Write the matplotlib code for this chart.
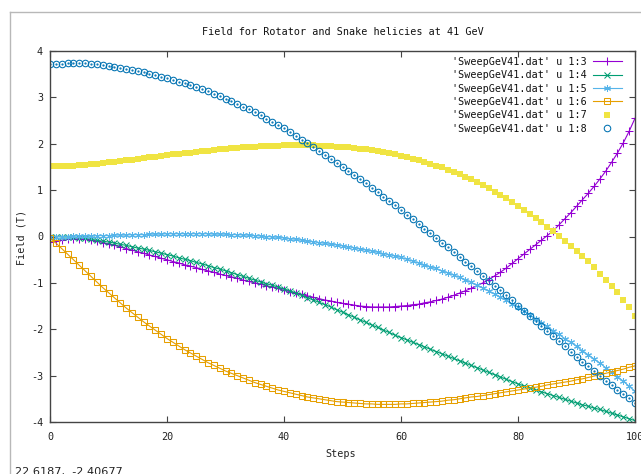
import matplotlib
matplotlib.use("Agg")
import matplotlib.pyplot as plt
from matplotlib.lines import Line2D

steps = list(range(0, 101))

col3 = [-0.12, -0.10, -0.08, -0.06, -0.05, -0.05, -0.06, -0.08, -0.10, -0.13,
        -0.16, -0.19, -0.22, -0.26, -0.29, -0.33, -0.36, -0.40, -0.43, -0.47,
        -0.50, -0.54, -0.57, -0.61, -0.64, -0.67, -0.71, -0.74, -0.77, -0.81,
        -0.84, -0.87, -0.90, -0.94, -0.97, -1.00, -1.03, -1.06, -1.09, -1.12,
        -1.16, -1.19, -1.22, -1.25, -1.28, -1.31, -1.34, -1.37, -1.39, -1.42,
        -1.44, -1.46, -1.48, -1.50, -1.51, -1.52, -1.52, -1.52, -1.52, -1.51,
        -1.50, -1.49, -1.47, -1.46, -1.43, -1.41, -1.38, -1.35, -1.31, -1.27,
        -1.22, -1.17, -1.12, -1.06, -1.00, -0.93, -0.85, -0.77, -0.68, -0.58,
        -0.48, -0.38, -0.28, -0.18, -0.08, 0.02, 0.12, 0.25, 0.38, 0.51,
        0.65, 0.79, 0.93, 1.08, 1.24, 1.41, 1.60, 1.80, 2.02, 2.27,
        2.55]

col4 = [0.00, 0.00, -0.01, -0.01, -0.02, -0.03, -0.04, -0.06, -0.08, -0.10,
        -0.12, -0.14, -0.17, -0.19, -0.22, -0.25, -0.27, -0.30, -0.33, -0.36,
        -0.39, -0.42, -0.46, -0.49, -0.52, -0.56, -0.59, -0.63, -0.67, -0.70,
        -0.74, -0.78, -0.82, -0.86, -0.90, -0.94, -0.98, -1.02, -1.05, -1.09,
        -1.13, -1.17, -1.22, -1.27, -1.32, -1.37, -1.42, -1.47, -1.52, -1.58,
        -1.63, -1.69, -1.74, -1.80, -1.85, -1.91, -1.96, -2.02, -2.07, -2.13,
        -2.18, -2.23, -2.28, -2.33, -2.38, -2.43, -2.48, -2.53, -2.58, -2.63,
        -2.68, -2.73, -2.78, -2.83, -2.88, -2.93, -2.98, -3.03, -3.08, -3.13,
        -3.18, -3.22, -3.26, -3.31, -3.35, -3.39, -3.43, -3.47, -3.51, -3.55,
        -3.59, -3.63, -3.66, -3.70, -3.73, -3.77, -3.81, -3.85, -3.89, -3.93,
        -3.97]

col5 = [0.00, 0.00, 0.00, 0.00, 0.01, 0.01, 0.01, 0.01, 0.02, 0.02,
        0.02, 0.03, 0.03, 0.03, 0.04, 0.04, 0.04, 0.05, 0.05, 0.05,
        0.06, 0.06, 0.06, 0.06, 0.06, 0.06, 0.06, 0.06, 0.05, 0.05,
        0.05, 0.04, 0.04, 0.03, 0.03, 0.02, 0.01, 0.00, -0.01, -0.02,
        -0.03, -0.05, -0.06, -0.08, -0.10, -0.11, -0.13, -0.15, -0.17, -0.18,
        -0.20, -0.22, -0.24, -0.27, -0.29, -0.31, -0.34, -0.37, -0.39, -0.42,
        -0.45, -0.49, -0.53, -0.57, -0.61, -0.65, -0.69, -0.74, -0.78, -0.83,
        -0.88, -0.93, -0.99, -1.05, -1.11, -1.17, -1.24, -1.31, -1.38, -1.45,
        -1.52, -1.60, -1.69, -1.77, -1.86, -1.94, -2.03, -2.11, -2.20, -2.28,
        -2.37, -2.46, -2.55, -2.64, -2.73, -2.83, -2.92, -3.02, -3.12, -3.23,
        -3.34]

col6 = [-0.03, -0.14, -0.26, -0.38, -0.50, -0.62, -0.74, -0.86, -0.98, -1.10,
        -1.21, -1.32, -1.43, -1.54, -1.64, -1.74, -1.84, -1.93, -2.02, -2.11,
        -2.20, -2.28, -2.36, -2.44, -2.51, -2.58, -2.65, -2.72, -2.78, -2.84,
        -2.90, -2.95, -3.00, -3.05, -3.10, -3.15, -3.19, -3.23, -3.27, -3.31,
        -3.34, -3.37, -3.40, -3.43, -3.46, -3.48, -3.50, -3.52, -3.54, -3.56,
        -3.57, -3.58, -3.59, -3.60, -3.61, -3.61, -3.62, -3.62, -3.62, -3.62,
        -3.61, -3.61, -3.60, -3.59, -3.58, -3.57, -3.56, -3.55, -3.53, -3.52,
        -3.50, -3.48, -3.46, -3.45, -3.43, -3.41, -3.39, -3.37, -3.35, -3.33,
        -3.31, -3.29, -3.27, -3.25, -3.23, -3.20, -3.18, -3.16, -3.14, -3.12,
        -3.09, -3.07, -3.04, -3.01, -2.98, -2.95, -2.92, -2.89, -2.86, -2.82,
        -2.79]

col7 = [1.51, 1.52, 1.52, 1.53, 1.53, 1.54, 1.55, 1.56, 1.57, 1.58,
        1.60, 1.61, 1.63, 1.64, 1.66, 1.68, 1.69, 1.71, 1.72, 1.74,
        1.75, 1.77, 1.78, 1.80, 1.81, 1.83, 1.84, 1.85, 1.87, 1.88,
        1.89, 1.90, 1.91, 1.92, 1.93, 1.94, 1.95, 1.95, 1.96, 1.96,
        1.97, 1.97, 1.97, 1.97, 1.97, 1.97, 1.96, 1.96, 1.95, 1.94,
        1.93, 1.92, 1.91, 1.89, 1.88, 1.86, 1.84, 1.82, 1.80, 1.77,
        1.74, 1.71, 1.68, 1.65, 1.61, 1.57, 1.53, 1.49, 1.44, 1.39,
        1.34, 1.28, 1.23, 1.17, 1.10, 1.04, 0.97, 0.89, 0.82, 0.74,
        0.66, 0.57, 0.49, 0.40, 0.31, 0.21, 0.11, 0.01, -0.09, -0.20,
        -0.31, -0.42, -0.53, -0.65, -0.80, -0.93, -1.06, -1.20, -1.36, -1.53,
        -1.71]

col8 = [3.71, 3.72, 3.73, 3.74, 3.75, 3.75, 3.74, 3.73, 3.72, 3.70,
        3.68, 3.66, 3.64, 3.62, 3.59, 3.57, 3.54, 3.51, 3.48, 3.45,
        3.41, 3.38, 3.34, 3.30, 3.26, 3.22, 3.17, 3.13, 3.08, 3.03,
        2.97, 2.92, 2.86, 2.80, 2.74, 2.68, 2.61, 2.54, 2.47, 2.40,
        2.33, 2.25, 2.17, 2.09, 2.01, 1.93, 1.85, 1.76, 1.68, 1.59,
        1.50, 1.42, 1.33, 1.24, 1.15, 1.05, 0.96, 0.86, 0.77, 0.67,
        0.57, 0.47, 0.37, 0.27, 0.17, 0.07, -0.03, -0.13, -0.23, -0.34,
        -0.44, -0.54, -0.64, -0.75, -0.85, -0.95, -1.06, -1.16, -1.27, -1.38,
        -1.50, -1.61, -1.71, -1.82, -1.93, -2.04, -2.15, -2.26, -2.37, -2.48,
        -2.59, -2.70, -2.80, -2.91, -3.01, -3.11, -3.21, -3.31, -3.40, -3.49,
        -3.58]

labels = ["'SweepGeV41.dat' u 1:3", "'SweepGeV41.dat' u 1:4",
          "'SweepGeV41.dat' u 1:5", "'SweepGeV41.dat' u 1:6",
          "'SweepGeV41.dat' u 1:7", "'SweepGeV41.dat' u 1:8"]
title = "Field for Rotator and Snake helicies at 41 GeV"
xlabel = "Steps"
ylabel = "Field (T)"
xticks = [0, 20, 40, 60, 80, 100]
yticks = [-4, -3, -2, -1, 0, 1, 2, 3, 4]
coord_text = "22.6187,  -2.40677"

colors = ["#9400d3", "#009e73", "#56b4e9", "#e69f00", "#f0e442", "#0072b2"]

FONT = "DejaVu Sans Mono"
FS = 7.3
plt.rcParams['font.family'] = [FONT]

W, H = 641, 474
fig = plt.figure(figsize=(W / 100, H / 100), dpi=100)
fig.patch.set_facecolor("white")

L, R, T, B = 50, 635, 51, 422
ax = fig.add_axes([L / W, 1 - B / H, (R - L) / W, (B - T) / H])

lw = 0.8
mew = 0.75
ms = 4.8

h = []
h.append(ax.plot(steps, col3, color=colors[0], lw=lw, marker='+', ms=ms + 0.6, mew=mew)[0])
h.append(ax.plot(steps, col4, color=colors[1], lw=lw, marker='x', ms=ms - 0.6, mew=mew)[0])
h.append(ax.plot(steps, col5, color=colors[2], lw=lw, marker=(6, 2, 0), ms=ms + 0.2, mew=mew)[0])
h.append(ax.plot(steps, col6, color=colors[3], lw=lw, marker='s', ms=ms - 0.2, mew=mew, mfc='none')[0])
h.append(ax.plot(steps, col7, color=colors[4], lw=0, marker='s', ms=ms - 0.2, mew=0, linestyle='none')[0])
h.append(ax.plot(steps, col8, color=colors[5], lw=0, marker='o', ms=ms - 0.1, mew=mew, mfc='none', linestyle='none')[0])
ax.plot(steps, col8, color=colors[5], lw=0, marker='.', ms=1.2, linestyle='none')

ax.set_xlim(0, 100)
ax.set_ylim(-4, 4)
ax.set_xticks(xticks)
ax.set_yticks(yticks)
ax.set_xticklabels([str(v) for v in xticks], fontsize=FS, color="#222222")
ax.set_yticklabels([str(v) for v in yticks], fontsize=FS, color="#222222")
ax.tick_params(direction='in', length=4, width=0.8, color="#444444",
               top=True, right=True, pad=5)
ax.tick_params(axis='x', pad=7)
for s in ax.spines.values():
    s.set_color("#444444")
    s.set_linewidth(1.0)

fig.text((L + R) / 2 / W, 1 - 32 / H, title, ha='center', va='center',
         fontsize=FS, color="#111111")
fig.text(341 / W, 1 - 454 / H, xlabel, ha='center', va='center',
         fontsize=FS, color="#222222")
fig.text(21 / W, 1 - 237 / H, ylabel, ha='center', va='center',
         rotation=90, fontsize=FS, color="#222222")
fig.text(15 / W, 1 - 467 / H, coord_text, ha='left', va='top',
         fontsize=FS + 0.8, color="#222222", family="DejaVu Sans")

leg = ax.legend(h, labels, loc='upper right',
                bbox_to_anchor=((622 - L) / (R - L), (B - 57) / (B - T)),
                frameon=False, markerfirst=False, fontsize=FS,
                handlelength=2.9, handletextpad=0.6, labelspacing=0.33,
                borderpad=0, borderaxespad=0)
for t in leg.get_texts():
    t.set_color("#111111")

# window frame lines
fig.add_artist(Line2D([10 / W, 1], [1 - 12 / H, 1 - 12 / H], transform=fig.transFigure,
                      color="#b8b8b8", lw=1.0))
fig.add_artist(Line2D([10 / W, 10 / W], [0, 1 - 12 / H], transform=fig.transFigure,
                      color="#b8b8b8", lw=1.0))

fig.savefig("out.png", dpi=100)
